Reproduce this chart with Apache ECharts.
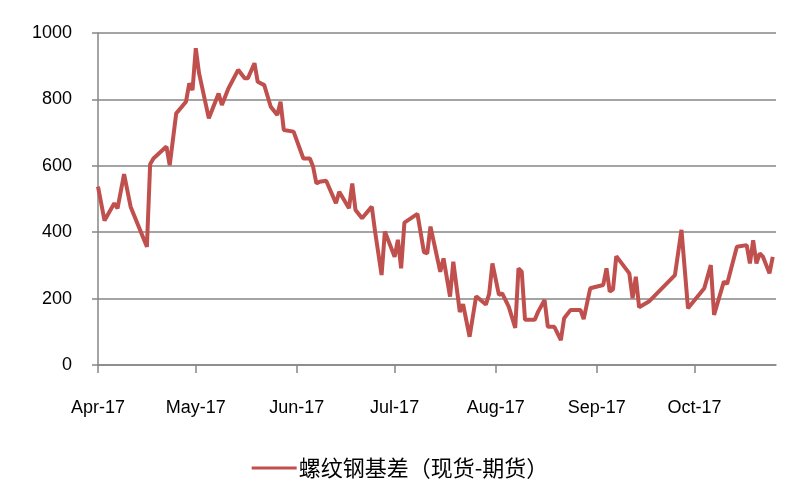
<!DOCTYPE html>
<html>
<head>
<meta charset="utf-8">
<script src="https://cdn.jsdelivr.net/npm/echarts@6/dist/echarts.min.js"></script>
<style>html,body{margin:0;padding:0;background:#fff;}#c{width:800px;height:500px;}</style>
</head>
<body>
<div id="c"></div>
<script>
var seriesName = '螺纹钢基差（现货-期货）';
var dates = [
'2017-04-01','2017-04-03','2017-04-06','2017-04-07','2017-04-09','2017-04-11','2017-04-16','2017-04-17','2017-04-18','2017-04-22',
'2017-04-23','2017-04-25','2017-04-28','2017-04-29','2017-04-30','2017-05-01','2017-05-02','2017-05-05','2017-05-06','2017-05-08',
'2017-05-09','2017-05-11','2017-05-14','2017-05-16','2017-05-17','2017-05-19','2017-05-20','2017-05-22','2017-05-24','2017-05-26',
'2017-05-27','2017-05-28','2017-05-31','2017-06-03','2017-06-05','2017-06-06','2017-06-07','2017-06-08','2017-06-10','2017-06-13',
'2017-06-14','2017-06-17','2017-06-18','2017-06-19','2017-06-21','2017-06-24','2017-06-25','2017-06-27','2017-06-28','2017-07-01',
'2017-07-02','2017-07-03','2017-07-04','2017-07-08','2017-07-10','2017-07-11','2017-07-12','2017-07-15','2017-07-16','2017-07-18',
'2017-07-19','2017-07-21','2017-07-22','2017-07-24','2017-07-26','2017-07-29','2017-07-30','2017-07-31','2017-08-02','2017-08-03',
'2017-08-05','2017-08-07','2017-08-08','2017-08-09','2017-08-10','2017-08-13','2017-08-14','2017-08-16','2017-08-17','2017-08-19',
'2017-08-21','2017-08-22','2017-08-24','2017-08-27','2017-08-28','2017-08-30','2017-09-03','2017-09-04','2017-09-05','2017-09-06',
'2017-09-07','2017-09-11','2017-09-12','2017-09-13','2017-09-14','2017-09-17','2017-09-25','2017-09-27','2017-09-29','2017-10-04',
'2017-10-06','2017-10-07','2017-10-10','2017-10-11','2017-10-14','2017-10-17','2017-10-18','2017-10-19','2017-10-20','2017-10-21',
'2017-10-22','2017-10-24','2017-10-25'
];
var values = [
537,435,487,472,575,477,356,605,622,658,
602,758,793,848,828,954,879,743,768,818,
783,833,889,864,864,909,853,843,778,753,
793,708,703,622,622,597,547,552,555,487,
522,472,547,467,442,477,402,271,402,326,
377,291,429,455,340,336,417,281,321,206,
311,160,183,85,207,182,214,306,211,216,
176,112,291,281,136,136,160,196,115,115,
75,141,166,166,138,231,241,291,221,228,
328,276,201,266,174,191,271,407,171,231,
301,151,251,244,356,361,306,376,306,336,
326,276,326
];
var tickDates = ['2017-04-01','2017-05-01','2017-06-01','2017-07-01','2017-08-01','2017-09-01','2017-10-01'];
var tickLabels = ['Apr-17','May-17','Jun-17','Jul-17','Aug-17','Sep-17','Oct-17'];
var axisStart = '2017-04-01';
var axisEnd = '2017-10-26';
var yTicks = [0, 200, 400, 600, 800, 1000];

var DAY = 86400000;
function toDay(s) { var p = s.split('-'); return Math.round(Date.UTC(+p[0], +p[1] - 1, +p[2]) / DAY); }
var tickDays = tickDates.map(toDay);
var labelMap = {};
tickDays.forEach(function (t, i) { labelMap[t] = tickLabels[i]; });
var data = dates.map(function (d, i) { return [toDay(d), values[i]]; });

var chart = echarts.init(document.getElementById('c'), null, { renderer: 'canvas' });
chart.setOption({
  animation: false,
  backgroundColor: '#ffffff',
  textStyle: { fontFamily: '"Liberation Sans", Arial, "Noto Sans CJK SC", sans-serif' },
  grid: { left: 98, right: 24, top: 33, bottom: 135, containLabel: false },
  legend: {
    bottom: 16, left: 'center',
    itemWidth: 45, itemHeight: 3, itemGap: 10,
    icon: 'rect',
    textStyle: { fontSize: 22, color: '#000', padding: [0, 0, 0, -3], fontFamily: '"Noto Sans CJK SC", sans-serif' },
    data: [seriesName]
  },
  xAxis: {
    type: 'value',
    min: toDay(axisStart), max: toDay(axisEnd),
    axisLine: { show: true, onZero: false, lineStyle: { color: '#868686', width: 1.5 } },
    axisTick: { show: true, length: 8, customValues: tickDays, lineStyle: { color: '#868686', width: 1.5 } },
    axisLabel: {
      customValues: tickDays, margin: 34, fontSize: 18, color: '#000',
      formatter: function (v) { return labelMap[v] || ''; }
    },
    splitLine: { show: false }
  },
  yAxis: {
    type: 'value', min: yTicks[0], max: yTicks[yTicks.length - 1], interval: 200,
    axisLine: { show: true, lineStyle: { color: '#868686', width: 1.5 } },
    axisTick: { show: true, length: 6, lineStyle: { color: '#868686', width: 1.5 } },
    axisLabel: { fontSize: 18, color: '#000', margin: 26, formatter: function (v) { return String(v); } },
    splitLine: { show: true, lineStyle: { color: '#868686', width: 1.5 } }
  },
  series: [{
    name: seriesName,
    type: 'line',
    data: data,
    showSymbol: false,
    symbol: 'none',
    lineStyle: { color: '#c0504d', width: 4 },
    itemStyle: { color: '#c0504d' }
  }]
});
</script>
</body>
</html>
